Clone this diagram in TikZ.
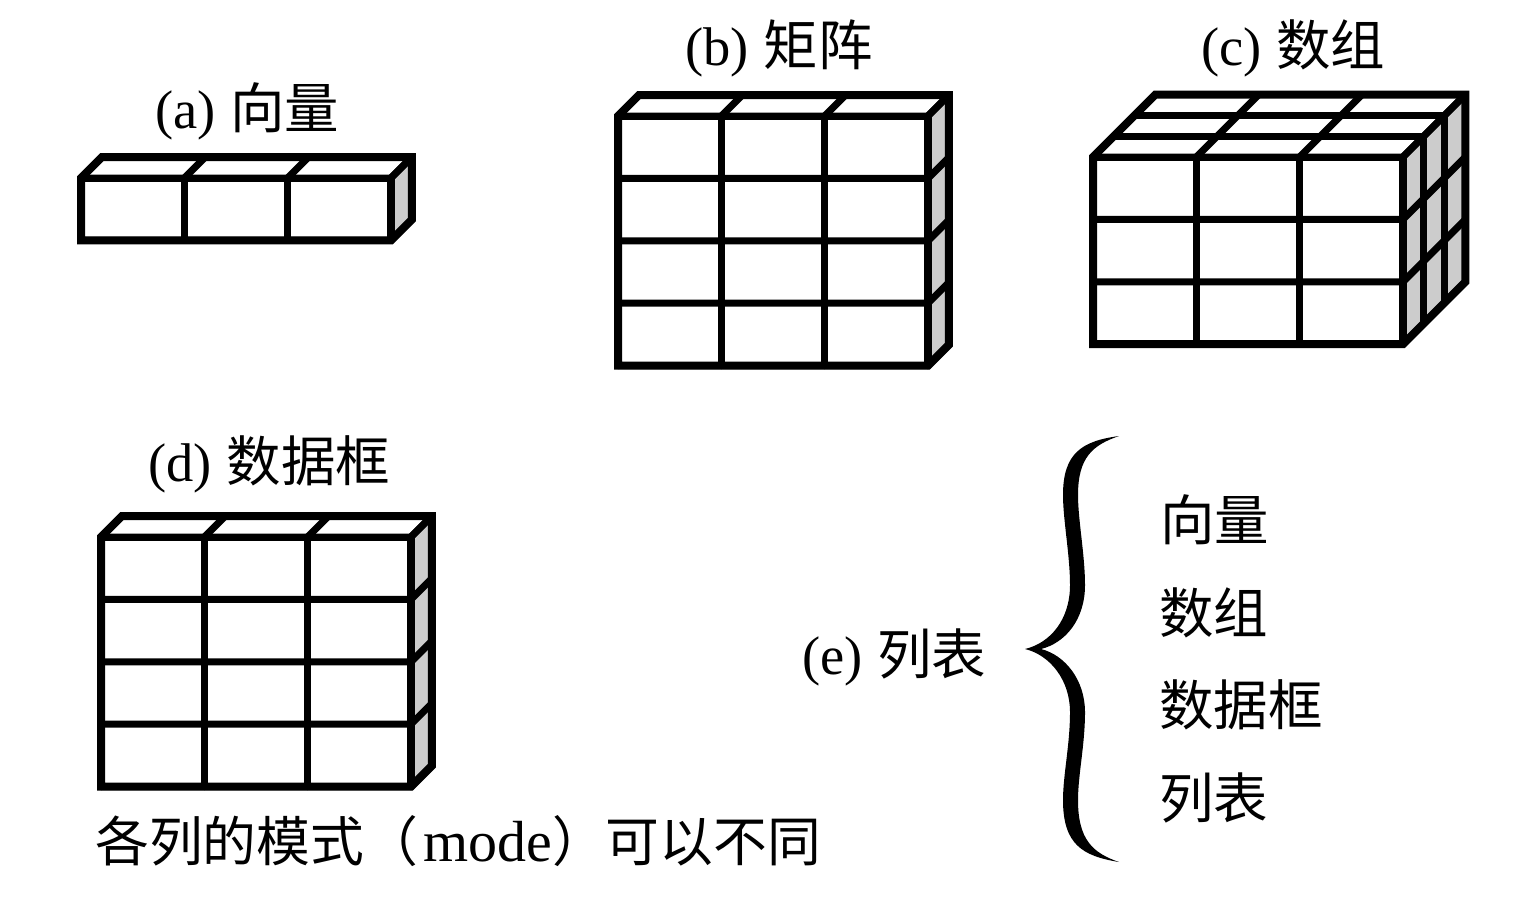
\documentclass[tikz,border=0pt]{standalone}
\usepackage{fontspec}
\setmainfont{Liberation Serif}
\newfontfamily\cjk{Noto Sans CJK SC}
\usetikzlibrary{positioning}
\definecolor{sidegray}{rgb}{0.80,0.80,0.80}
\tikzstyle{gridline} = [line width=1.4mm, line cap=round, draw=black]
\tikzstyle{outline} = [line width=1.6mm, line join=miter, draw=black]
\tikzstyle{sideface} = [fill=sidegray]
\tikzstyle{caption} = [anchor=base west, inner sep=0pt, font=\fontsize{31pt}{34pt}\selectfont]
\newcommand{\gap}{\hspace{0.27em}}
% left, top, rows, layers of one block
\newcommand{\gridblock}[4]{
	\begin{scope}[shift={(#1,#2)}]
		\pgfmathsetmacro{\depth}{#4*20.8}
		\pgfmathsetmacro{\high}{#3*62.4}
		\fill [sideface] (310,0) -- (310+\depth,-\depth) -- (310+\depth,\high-\depth) -- (310,\high) -- cycle;
		\foreach \c in {0,...,3} {
			\draw [gridline] (\c*103.3,0) -- (\c*103.3,\high);
			\draw [gridline] (\c*103.3,0) -- (\c*103.3+\depth,-\depth);
		}
		\foreach \r in {0,...,#3} {
			\draw [gridline] (0,\r*62.4) -- (310,\r*62.4) -- (310+\depth,\r*62.4-\depth);
		}
		\foreach \l in {0,...,#4} {
			\draw [gridline] (\l*20.8,-\l*20.8) -- (310+\l*20.8,-\l*20.8) -- (310+\l*20.8,\high-\l*20.8);
		}
		\draw [outline] (0,0) -- (\depth,-\depth) -- (310+\depth,-\depth) -- (310+\depth,\high-\depth) -- (310,\high) -- (0,\high) -- cycle;
	\end{scope}
}
\begin{document}
\begin{tikzpicture}[x=0.02cm,y=-0.02cm]
	\useasboundingbox (0,0) rectangle (1520,904);
	\gridblock{81}{178}{1}{1}
	\gridblock{618}{116}{4}{1}
	\gridblock{1093}{157}{3}{3}
	\gridblock{101}{537}{4}{1}
	
	\node (veclabel) [caption] at (155,128) {(a)\gap{\cjk 向量}};
	\node (matlabel) [caption] at (685,65) {(b)\gap{\cjk 矩阵}};
	\node (arrlabel) [caption] at (1201,65) {(c)\gap{\cjk 数组}};
	\node (framelabel) [caption] at (148,481) {(d)\gap{\cjk 数据框}};
	\node (modenote) [caption, font=\fontsize{30.6pt}{34pt}\selectfont] at (95,861) {{\cjk 各列的模式（}\hspace{0.1em}{\fontsize{33pt}{34pt}\selectfont mode}{\cjk ）可以不同}};
	\node (listlabel) [caption] at (802,674) {(e)\gap{\cjk 列表}};
	
	\node (itemvec) [caption] at (1160,540) {\cjk 向量};
	\node (itemarr) [caption] at (1159,633) {\cjk 数组};
	\node (itemframe) [caption] at (1159,725) {\cjk 数据框};
	\node (itemlist) [caption] at (1159,818) {\cjk 列表};
	
	\fill (1119,436) .. controls (1082,441) and (1063,453) .. (1063,495)
		.. controls (1063,520) and (1070,555) .. (1070,585)
		.. controls (1070,620) and (1050,643) .. (1025,649)
		.. controls (1050,655) and (1070,680) .. (1070,712)
		.. controls (1070,745) and (1063,775) .. (1063,800)
		.. controls (1063,844) and (1082,856) .. (1119,862)
		.. controls (1093,853) and (1078,840) .. (1078,800)
		.. controls (1078,775) and (1085,745) .. (1085,712)
		.. controls (1085,680) and (1065,655) .. (1041,649)
		.. controls (1065,643) and (1085,620) .. (1085,585)
		.. controls (1085,555) and (1078,520) .. (1078,495)
		.. controls (1078,457) and (1093,445) .. (1119,436) -- cycle;
\end{tikzpicture}
\end{document}
